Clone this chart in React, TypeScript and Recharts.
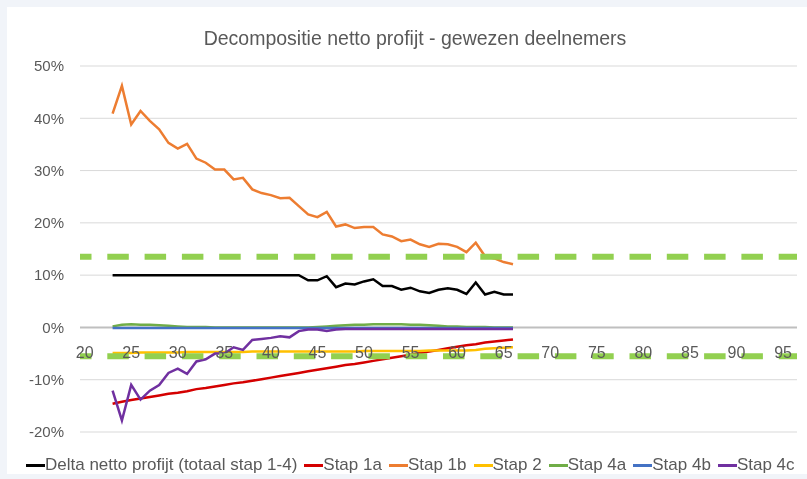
import React from "react";
import { CartesianGrid, Line, LineChart, ReferenceLine, XAxis, YAxis } from "recharts";

// leeftijden (x) en componenten in procenten
const ages = [
  23, 24, 25, 26, 27, 28, 29, 30, 31, 32, 33, 34, 35, 36, 37, 38, 39, 40, 41, 42, 43, 44,
  45, 46, 47, 48, 49, 50, 51, 52, 53, 54, 55, 56, 57, 58, 59, 60, 61, 62, 63, 64, 65, 66,
];
const delta = [
  10, 10, 10, 10, 10, 10, 10, 10, 10, 10, 10, 10, 10, 10, 10, 10, 10, 10, 10, 10, 10, 9.0,
  9.0, 9.8, 7.7, 8.4, 8.2, 8.8, 9.2, 7.9, 7.9, 7.2, 7.6, 6.9, 6.6, 7.2, 7.5, 7.2, 6.4, 8.6, 6.3, 6.8, 6.3, 6.3,
];
const stap1a = [
  -14.6, -14.2, -13.9, -13.6, -13.3, -13.0, -12.7, -12.5, -12.2, -11.8, -11.6, -11.3, -11.0, -10.7, -10.5, -10.2, -9.9, -9.6, -9.3, -9.0, -8.7, -8.4,
  -8.1, -7.8, -7.5, -7.2, -7.0, -6.7, -6.4, -6.1, -5.8, -5.5, -5.2, -4.9, -4.6, -4.3, -4.0, -3.7, -3.4, -3.2, -2.9, -2.7, -2.5, -2.3,
];
const stap1b = [
  40.9, 46.2, 38.8, 41.4, 39.5, 37.9, 35.3, 34.2, 35.1, 32.3, 31.5, 30.2, 30.2, 28.3, 28.6, 26.4, 25.7, 25.3, 24.7, 24.8, 23.2, 21.6,
  21.1, 22.1, 19.3, 19.7, 19.0, 19.2, 19.2, 17.8, 17.4, 16.5, 16.8, 15.9, 15.4, 16.0, 15.9, 15.4, 14.4, 16.2, 13.6, 13.2, 12.5, 12.1,
];
const stap2 = [
  -4.9, -4.9, -4.9, -4.8, -4.8, -4.8, -4.8, -4.8, -4.7, -4.7, -4.7, -4.7, -4.7, -4.7, -4.7, -4.6, -4.6, -4.6, -4.6, -4.6, -4.6, -4.6,
  -4.6, -4.6, -4.6, -4.6, -4.6, -4.5, -4.5, -4.5, -4.5, -4.5, -4.5, -4.5, -4.4, -4.4, -4.4, -4.4, -4.4, -4.3, -4.1, -4.0, -3.9, -3.8,
];
const stap4a = [
  0.2, 0.5, 0.6, 0.5, 0.5, 0.4, 0.3, 0.2, 0.1, 0.1, 0.1, 0.0, 0.0, 0.0, 0.0, 0.0, 0.0, 0.0, 0.0, 0.0, 0.0, 0.0,
  0.1, 0.2, 0.3, 0.4, 0.5, 0.5, 0.6, 0.6, 0.6, 0.6, 0.5, 0.5, 0.4, 0.3, 0.2, 0.2, 0.1, 0.1, 0.1, 0.0, 0.0, 0.0,
];
const stap4b = [
  -0.1, -0.1, -0.1, -0.1, -0.1, -0.1, -0.1, -0.1, -0.1, -0.1, -0.1, -0.1, -0.1, -0.1, -0.1, -0.1, -0.1, -0.1, -0.1, -0.1, -0.1, -0.1,
  -0.1, -0.1, -0.1, -0.1, -0.1, -0.1, -0.1, -0.1, -0.1, -0.1, -0.1, -0.1, -0.1, -0.1, -0.1, -0.1, -0.1, -0.1, -0.1, -0.1, -0.1, -0.1,
];
const stap4c = [
  -12.1, -17.8, -11.0, -13.8, -12.1, -11.0, -8.7, -7.9, -8.9, -6.5, -6.1, -5.0, -5.0, -3.8, -4.3, -2.4, -2.2, -2.0, -1.7, -1.9, -0.7, -0.4,
  -0.4, -0.7, -0.4, -0.3, -0.3, -0.3, -0.3, -0.3, -0.3, -0.3, -0.3, -0.3, -0.3, -0.3, -0.3, -0.3, -0.3, -0.3, -0.3, -0.3, -0.3, -0.3,
];

const xTicks = [20, 25, 30, 35, 40, 45, 50, 55, 60, 65, 70, 75, 80, 85, 90, 95];
const yTicks = [-20, -10, 0, 10, 20, 30, 40, 50];
const markers = [13.5, -5.5];

const series = [
  { key: "delta", name: "Delta netto profijt (totaal stap 1-4)", color: "#000000", values: delta },
  { key: "stap1a", name: "Stap 1a", color: "#d40000", values: stap1a },
  { key: "stap1b", name: "Stap 1b", color: "#ed7d31", values: stap1b },
  { key: "stap2", name: "Stap 2", color: "#ffc000", values: stap2 },
  { key: "stap4a", name: "Stap 4a", color: "#70ad47", values: stap4a },
  { key: "stap4b", name: "Stap 4b", color: "#4472c4", values: stap4b },
  { key: "stap4c", name: "Stap 4c", color: "#7030a0", values: stap4c },
];

const data = ages.map((age, i) => {
  const row: Record<string, number> = { age };
  series.forEach((s) => (row[s.key] = s.values[i]));
  return row;
});

const FONT = "'Liberation Sans', Arial, sans-serif";
const TEXT = "#595959";
const W = 800;
const H = 467;
const X_AXIS_H = 1;
const M = { top: 59, right: 10, left: 0, bottom: 41 };
const Y_MIN = -20;
const Y_MAX = 50;
const plotH = H - M.top - M.bottom - X_AXIS_H;
const zeroY = M.top + (Y_MAX / (Y_MAX - Y_MIN)) * plotH;

// x-labels hangen onder de 0%-as, niet onderaan het plot
const renderXTick = (props: any) => (
  <text
    key={props.index}
    x={props.x}
    y={zeroY + 25}
    textAnchor="middle"
    dominantBaseline="central"
    fill={TEXT}
    fontSize={16}
    fontFamily={FONT}
  >
    {props.payload.value}
  </text>
);

export default function App() {
  return (
    <div style={{ position: "fixed", left: 0, top: 0, width: 807, height: 479, background: "#f1f4f9" }}>
      <div style={{ position: "absolute", left: 7, top: 7, width: W, height: H, background: "#fff", fontFamily: FONT }}>
        <div
          style={{
            position: "absolute",
            left: 0,
            width: 816,
            top: 18,
            textAlign: "center",
            fontSize: 19.5,
            color: TEXT,
            lineHeight: "26px",
          }}
        >
          Decompositie netto profijt - gewezen deelnemers
        </div>
        <LineChart width={W} height={H} data={data} margin={M}>
          <CartesianGrid vertical={false} stroke="#d9d9d9" />
          <XAxis
            dataKey="age"
            type="number"
            domain={[19.5, 96.5]}
            ticks={xTicks}
            height={X_AXIS_H}
            axisLine={false}
            tickLine={false}
            tick={renderXTick}
            interval={0}
          />
          <YAxis
            type="number"
            domain={[Y_MIN, Y_MAX]}
            ticks={yTicks}
            width={73}
            axisLine={false}
            tickLine={false}
            tickMargin={10}
            tickFormatter={(v) => `${v}%`}
            tick={{ fill: TEXT, fontSize: 15, fontFamily: FONT }}
          />
          <ReferenceLine y={0} stroke="#bfbfbf" strokeWidth={2} />
          {series.map((s) => (
            <Line
              key={s.key}
              dataKey={s.key}
              name={s.name}
              type="linear"
              stroke={s.color}
              strokeWidth={2.5}
              dot={false}
              isAnimationActive={false}
            />
          ))}
          {markers.map((m) => (
            <ReferenceLine
              key={m}
              y={m}
              stroke="#92d050"
              strokeWidth={6}
              strokeDasharray="21.5 15.8"
              strokeDashoffset={10}
            />
          ))}
        </LineChart>
        <div
          style={{
            position: "absolute",
            left: 19,
            top: 448,
            display: "flex",
            alignItems: "center",
            fontSize: 17,
            color: TEXT,
            whiteSpace: "nowrap",
          }}
        >
          {series.map((s) => (
            <span key={s.key} style={{ display: "flex", alignItems: "center", marginRight: 7 }}>
              <span style={{ width: 19, height: 3, background: s.color, display: "inline-block" }} />
              {s.name}
            </span>
          ))}
        </div>
      </div>
    </div>
  );
}
